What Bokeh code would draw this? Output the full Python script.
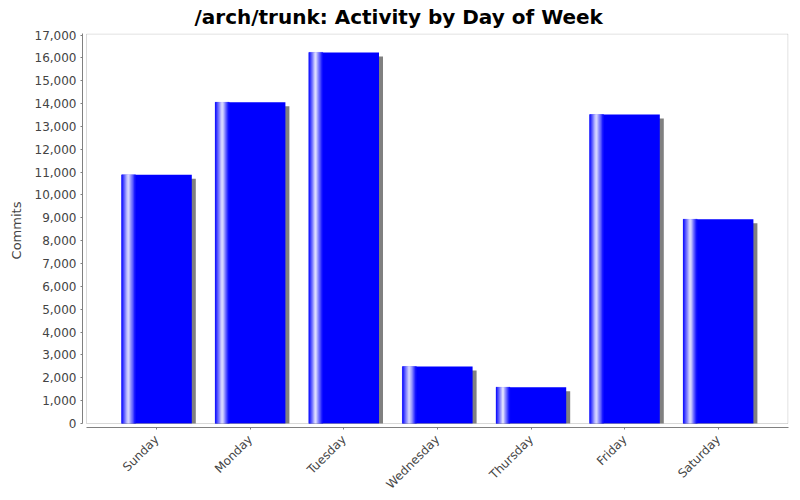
import math
from bokeh.plotting import figure
from bokeh.models import ColumnDataSource, Range1d, FixedTicker, NumeralTickFormatter, BoxAnnotation
from bokeh.embed import file_html
from bokeh.resources import INLINE

# ---- data ----
title_text = "/arch/trunk: Activity by Day of Week"
days = ["Sunday", "Monday", "Tuesday", "Wednesday", "Thursday", "Friday", "Saturday"]
commits = [10880, 14060, 16240, 2490, 1590, 13520, 8940]
y_ticks = list(range(0, 17001, 1000))

# ---- layout constants ----
FRAME_W, FRAME_H = 706, 394
GAP = 4                      # px gap between axes and plot outline
X_IN = (-0.75, 6.75)
px_x = (FRAME_W - GAP) / (X_IN[1] - X_IN[0])
x_start = X_IN[0] - GAP / px_x
Y_END = 17066
px_y = (FRAME_H - GAP) / Y_END
y_start = -GAP / px_y

BAR_W = 0.75
SH_DX = 4 / px_x
SH_DY = 4 / px_y
BLUE = (0, 0, 255)

p = figure(frame_width=FRAME_W, frame_height=FRAME_H,
           x_range=Range1d(x_start, X_IN[1]), y_range=Range1d(y_start, Y_END),
           output_backend="svg", toolbar_location=None,
           min_border_left=82, min_border_right=12, min_border_top=33, min_border_bottom=73,
           title=title_text)
p.background_fill_color = "white"
p.border_fill_color = "white"
p.outline_line_color = None
p.grid.visible = False

p.title.text_font = "DejaVu Sans"
p.title.text_font_size = "20px"
p.title.text_font_style = "bold"
p.title.text_color = "black"
p.title.align = "left"
p.title.offset = 112
p.title.vertical_align = "top"
p.title.standoff = 6

xs = list(range(len(days)))

# shadows
shadow = ColumnDataSource(dict(
    left=[x - BAR_W / 2 + SH_DX for x in xs],
    right=[x + BAR_W / 2 + SH_DX for x in xs],
    top=[v - SH_DY for v in commits],
    bottom=[0] * len(xs)))
p.quad(left="left", right="right", top="top", bottom="bottom", source=shadow,
       fill_color="#808080", line_color=None)

# main bars
p.vbar(x=xs, width=BAR_W, top=commits, bottom=0, fill_color="#0000ff", line_color=None)

# gradient highlight strips (left 20% of each bar)
N = 16
L, R, T, C = [], [], [], []
for j in range(N):
    f0 = 0.2 * j / N
    f1 = 0.2 * (j + 1) / N
    t = (f0 + f1) / 2
    w = t / 0.1 if t < 0.1 else 1 - (t - 0.1) / 0.1
    col = "#%02x%02x%02x" % tuple(int(round(b + (255 - b) * w)) for b in BLUE)
    for x, v in zip(xs, commits):
        L.append(x - BAR_W / 2 + f0 * BAR_W)
        R.append(x - BAR_W / 2 + f1 * BAR_W)
        T.append(v)
        C.append(col)
strips = ColumnDataSource(dict(left=L, right=R, top=T, bottom=[0] * len(L), color=C))
p.quad(left="left", right="right", top="top", bottom="bottom", source=strips,
       fill_color="color", line_color="color", line_width=0.3)

# plot outline (inset from the axes)
p.add_layout(BoxAnnotation(left=X_IN[0], bottom=0,
                           right=X_IN[1] - 0.5 / px_x, top=Y_END - 0.5 / px_y,
                           fill_color=None, line_color="#808080", line_width=1))

# y axis
ya = p.yaxis[0]
ya.ticker = FixedTicker(ticks=y_ticks)
ya.formatter = NumeralTickFormatter(format="0,0")
ya.bounds = (0, Y_END)
ya.major_tick_in = 0
ya.major_tick_out = 2
ya.minor_tick_line_color = None
ya.axis_line_color = "#808080"
ya.major_tick_line_color = "#808080"
ya.major_label_text_color = "#444444"
ya.major_label_text_font = "DejaVu Sans"
ya.major_label_text_font_size = "12px"
ya.major_label_standoff = 4
ya.axis_label = "Commits"
ya.axis_label_text_font = "DejaVu Sans"
ya.axis_label_text_font_size = "13px"
ya.axis_label_text_font_style = "normal"
ya.axis_label_text_color = "#444444"
ya.axis_label_standoff = 8

# x axis
xa = p.xaxis[0]
xa.ticker = FixedTicker(ticks=xs)
xa.major_label_overrides = {i: d for i, d in zip(xs, days)}
xa.bounds = X_IN
xa.major_label_orientation = math.pi / 4
xa.major_tick_in = 0
xa.major_tick_out = 2
xa.minor_tick_line_color = None
xa.axis_line_color = "#808080"
xa.major_tick_line_color = "#808080"
xa.major_label_text_color = "#444444"
xa.major_label_text_font = "DejaVu Sans"
xa.major_label_text_font_size = "12px"
xa.major_label_standoff = 8

open("out.html", "w").write(file_html(p, INLINE))
